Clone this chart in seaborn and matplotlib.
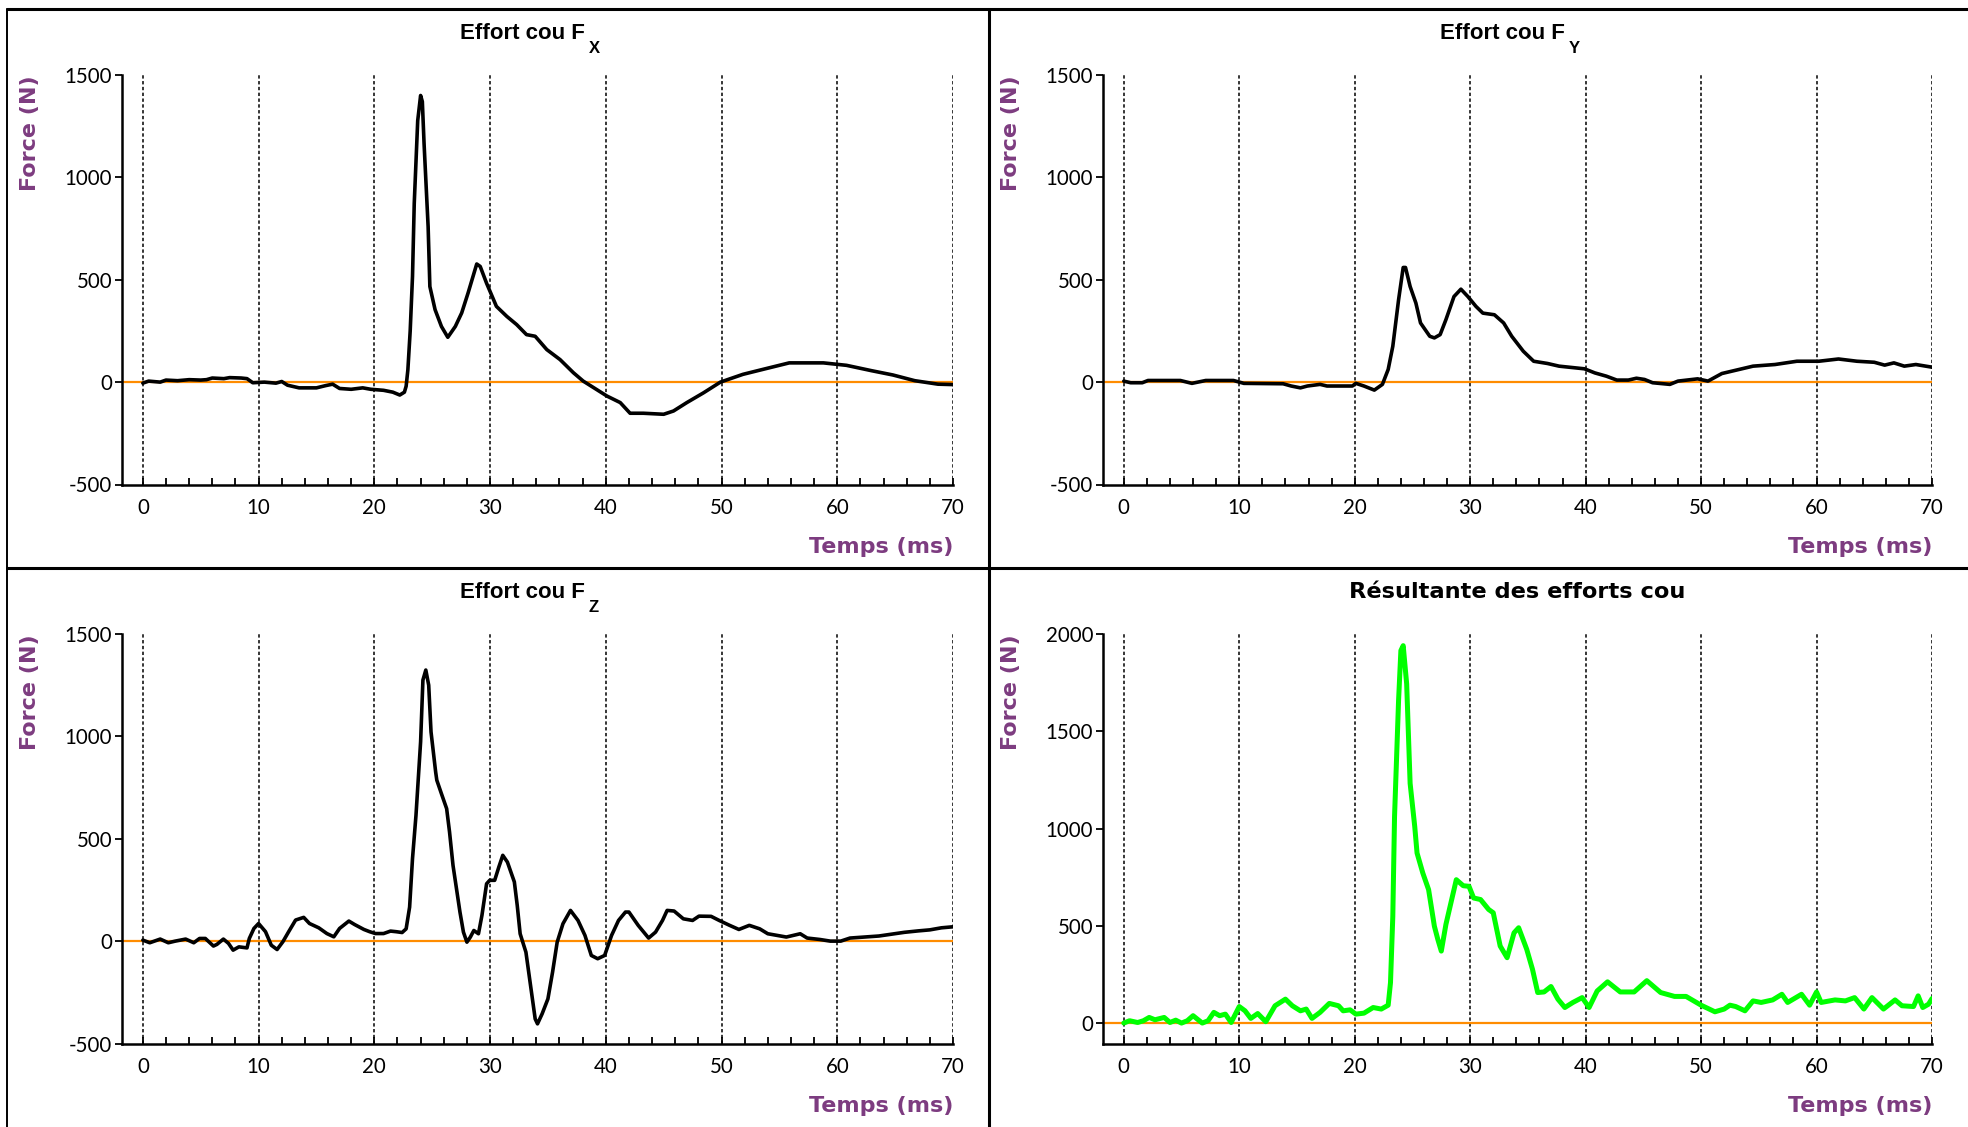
import numpy as np
import pandas as pd
import seaborn as sns
import matplotlib
matplotlib.use("Agg")
import matplotlib.pyplot as plt
from matplotlib.lines import Line2D
from matplotlib.ticker import MultipleLocator, FixedLocator

# ---------------- data (time in ms, force in N) ----------------
fx_t = [0, 0.5, 1.5, 2, 3, 4, 5, 5.5, 6, 7, 7.5, 8.5, 9, 9.5, 10.5, 11.5, 12, 12.5, 13.5, 15,
        15.8, 16.4, 17, 18, 19, 19.7, 20.8, 21.6, 22.2, 22.6, 22.75, 22.9, 23.1, 23.3, 23.45, 23.75,
        24.0, 24.15, 24.3, 24.65, 24.8, 25.25, 25.8, 26.35, 27.0, 27.55, 28.1, 28.85, 29.15, 29.7,
        30.55, 31.45, 32.3, 33.15, 33.9, 34.9, 36.05, 37.2, 38.05, 38.95, 40.1, 41.25, 42.1, 43.25,
        45.0, 45.85, 47.0, 48.45, 49.9, 51.85, 53.7, 55.85, 58.8, 60.8, 62.95, 64.8, 66.7, 68.7, 70]
fx_v = [-5, 5, 0, 10, 7, 12, 10, 12, 20, 17, 22, 20, 17, -3, 0, -5, 3, -15, -28, -28,
        -17, -10, -31, -35, -28, -35, -40, -49, -63, -49, -20, 60, 250, 516, 872, 1277,
        1400, 1370, 1164, 759, 467, 354, 272, 219, 272, 338, 435, 577, 565, 483,
        370, 321, 281, 232, 224, 159, 110, 46, 5, -27, -68, -100, -152, -152,
        -157, -141, -100, -52, 0, 38, 64, 94, 94, 82, 56, 35, 7, -10, -12]

fy_t = [0, 0.6, 1.6, 2.1, 4.9, 5.9, 7.1, 9.5, 10.4, 13.8, 14.5, 15.3, 15.9, 17.0, 17.6, 19.8, 20.1,
        20.8, 21.7, 22.4, 22.9, 23.3, 23.8, 24.2, 24.4, 24.8, 25.3, 25.7, 26.5, 26.9, 27.4, 27.9,
        28.6, 29.2, 29.8, 30.5, 31.1, 32.1, 32.9, 33.6, 34.6, 35.5, 36.7, 37.7, 39.9, 40.8, 41.8,
        42.7, 43.7, 44.4, 45.1, 45.8, 47.3, 48.0, 49.7, 50.6, 51.8, 53.0, 54.5, 56.4, 58.3, 60.2,
        61.9, 63.5, 65.0, 65.9, 66.7, 67.6, 68.6, 70.0]
fy_v = [5, -3, -3, 8, 8, -6, 8, 8, -6, -8, -19, -28, -19, -11, -19, -19, -6,
        -19, -39, -11, 62, 175, 402, 560, 560, 467, 386, 289, 224, 216, 232, 305,
        418, 454, 418, 370, 337, 329, 289, 224, 151, 102, 91, 78, 65, 45, 29,
        10, 10, 19, 13, -3, -11, 5, 16, 5, 42, 58, 78, 86, 102, 102,
        113, 102, 97, 83, 94, 78, 86, 73]

fz_t = [0, 0.6, 1.5, 2.2, 2.8, 3.7, 4.4, 4.9, 5.4, 6.1, 6.4, 6.96, 7.4, 7.8, 8.3, 9.0, 9.2, 9.6,
        10.0, 10.6, 11.1, 11.6, 12.1, 12.6, 13.2, 13.9, 14.4, 15.2, 15.9, 16.5, 17.0, 17.8, 18.3,
        19.1, 19.6, 20.1, 20.8, 21.4, 21.9, 22.4, 22.75, 23.05, 23.3, 23.6, 24.0, 24.2, 24.45, 24.7,
        24.9, 25.3, 25.4, 25.8, 26.25, 26.5, 26.8, 27.1, 27.4, 27.7, 28.0, 28.3, 28.6, 29.0, 29.3,
        29.7, 29.97, 30.4, 30.76, 31.1, 31.5, 32.1, 32.35, 32.6, 33.1, 33.5, 33.9, 34.1, 34.5,
        35.0, 35.4, 35.8, 36.3, 36.95, 37.6, 38.2, 38.75, 39.3, 39.9, 40.5, 41.1, 41.7, 42.0,
        42.8, 43.7, 44.3, 44.9, 45.3, 45.9, 46.7, 47.5, 48.05, 49.1, 49.8, 50.7, 51.5, 52.4,
        53.3, 54.0, 55.6, 56.8, 57.4, 58.5, 59.4, 60.3, 61.1, 63.6, 65.8, 67.0, 68.0, 69.0, 70.0]
fz_v = [5, -8, 10, -8, 0, 10, -8, 13, 13, -24, -16, 10, -11, -44, -28, -33, 13, 62,
        86, 46, -20, -41, -3, 46, 103, 116, 86, 65, 37, 21, 62, 98, 81,
        57, 46, 37, 37, 49, 46, 42, 60, 166, 403, 614, 973, 1275, 1324, 1250,
        1022, 826, 786, 720, 647, 533, 370, 256, 142, 44, -5, 20, 52, 36, 126,
        280, 297, 297, 362, 419, 386, 289, 174, 36, -54, -217, -380, -404, -355,
        -282, -152, -5, 85, 150, 101, 28, -70, -86, -70, 28, 101, 142, 142,
        77, 15, 44, 101, 150, 147, 109, 101, 122, 121, 101, 77, 57, 77,
        60, 36, 20, 36, 15, 8, 0, 0, 15, 25, 43, 50, 55, 65, 70]

res_t = [0, 0.5, 1.2, 1.7, 2.2, 2.7, 3.5, 4.0, 4.5, 5.0, 5.5, 6.0, 6.8, 7.3, 7.8, 8.3, 8.8, 9.3,
         10.0, 10.5, 11.0, 11.6, 12.3, 13.1, 14.0, 14.6, 15.3, 15.8, 16.3, 17.0, 17.8, 18.6, 19.0,
         19.6, 20.1, 20.8, 21.6, 22.3, 22.9, 23.1, 23.3, 23.45, 23.8, 24.0, 24.2, 24.5, 24.8, 25.2,
         25.4, 25.9, 26.4, 26.9, 27.2, 27.5, 27.9, 28.4, 28.8, 29.4, 29.9, 30.3, 30.9, 31.6, 32.0,
         32.6, 33.2, 33.8, 34.2, 34.9, 35.4, 35.85, 36.4, 37.0, 37.6, 38.2, 38.9, 39.7, 40.3, 41.0,
         41.9, 43.0, 44.2, 45.3, 46.5, 47.7, 48.7, 50.0, 51.2, 52.0, 52.5, 53.0, 53.8, 54.5, 55.2,
         56.2, 57.0, 57.5, 58.7, 59.4, 60.0, 60.4, 61.6, 62.5, 63.3, 64.1, 64.8, 65.8, 66.8, 67.4,
         68.4, 68.8, 69.2, 69.7, 70.0]
res_v = [0, 12, 3, 12, 29, 17, 29, 3, 15, 0, 12, 38, 0, 12, 55, 38, 46, 3,
         85, 63, 24, 49, 7, 89, 123, 89, 63, 72, 24, 55, 101, 89, 63,
         68, 46, 51, 80, 72, 92, 208, 549, 1061, 1659, 1915, 1940, 1744, 1232, 1010,
         874, 771, 686, 498, 430, 370, 507, 635, 737, 706, 703, 643, 635, 584, 567,
         396, 336, 464, 490, 379, 276, 157, 160, 188, 123, 80, 106, 131, 80, 165,
         212, 160, 160, 218, 157, 137, 137, 92, 58, 72, 92, 85, 63, 114, 106,
         119, 148, 106, 148, 92, 160, 106, 119, 114, 131, 72, 131, 72, 119, 89,
         85, 140, 80, 97, 126]

title_main = ["Effort cou F", "Effort cou F", "Effort cou F", "Résultante des efforts cou"]
title_sub = ["X", "Y", "Z", ""]
x_major = [0, 10, 20, 30, 40, 50, 60, 70]
y_ticks_f = [-500, 0, 500, 1000, 1500]
y_ticks_r = [0, 500, 1000, 1500, 2000]
xlabel_text = "Temps (ms)"
ylabel_text = "Force (N)"

# ---------------- style ----------------
sns.set_theme(style="white")
plt.rcParams["font.family"] = ["Lato", "DejaVu Sans"]

PURPLE = "#7D3C80"
ORANGE = "#FF8C00"
GREEN = "#00FF00"

W, H = 1968, 1127
fig = plt.figure(figsize=(W / 100, H / 100), dpi=100)
fig.patch.set_facecolor("white")

lefts = [122 / W, 1103 / W]
widths = [831 / W, 829 / W]
bottoms = [1 - 484.5 / H, 1 - 1043.5 / H]
heights = [409.5 / H, 409.5 / H]

series = [(fx_t, fx_v), (fy_t, fy_v), (fz_t, fz_v), (res_t, res_v)]

for i, (t, v) in enumerate(series):
    r, c = divmod(i, 2)
    ax = fig.add_axes([lefts[c], bottoms[r], widths[c], heights[r]])
    ax.set_facecolor("white")
    resultant = (i == 3)
    ylim = (-105, 2000) if resultant else (-500, 1500)
    yt = y_ticks_r if resultant else y_ticks_f

    for xv in x_major:
        ax.axvline(xv, color="black", ls=(0, (2.2, 1.6)), lw=1.1, zorder=1)
    ax.axhline(0, color=ORANGE, lw=1.6, zorder=2)

    df = pd.DataFrame({"t": t, "v": v})
    sns.lineplot(data=df, x="t", y="v", ax=ax, color=GREEN if resultant else "black",
                 linewidth=3.6 if resultant else 2.6, estimator=None, sort=False, zorder=3)

    ax.set_xlim(-1.8, 70)
    ax.set_ylim(*ylim)
    ax.xaxis.set_major_locator(FixedLocator(x_major))
    ax.xaxis.set_minor_locator(MultipleLocator(2))
    ax.yaxis.set_major_locator(FixedLocator(yt))
    ax.set_xticklabels([str(x) for x in x_major])
    ax.set_yticklabels([str(y) for y in yt])

    for s in ["top", "right"]:
        ax.spines[s].set_visible(False)
    for s in ["left", "bottom"]:
        ax.spines[s].set_color("black")
        ax.spines[s].set_linewidth(1.8)

    ax.tick_params(axis="x", which="both", direction="in", length=5, width=1.3,
                   color="black", pad=9.5, labelsize=14.8, labelcolor="black", bottom=True)
    ax.tick_params(axis="y", which="major", direction="out", length=5, width=1.3,
                   color="black", pad=2, labelsize=14.8, labelcolor="black", left=True)
    ax.grid(False)

    ax.set_xlabel(xlabel_text, loc="right", color=PURPLE, fontsize=16,
                  fontweight="bold", family="DejaVu Sans")
    ax.xaxis.set_label_coords(1.0, -0.153)
    ax.xaxis.label.set_va("center")
    ax.set_ylabel(ylabel_text, loc="top", color=PURPLE, fontsize=16,
                  fontweight="bold", family="DejaVu Sans")
    ax.yaxis.set_label_coords(-0.1107, 1.0)
    ax.yaxis.label.set_va("center")

    if resultant:
        ax.text(0.5, 1.087, title_main[i], transform=ax.transAxes, ha="center", va="baseline",
                fontsize=16.2, fontweight="bold", family="DejaVu Sans", color="black")
    else:
        main = ax.text(0.482, 1.087, title_main[i], transform=ax.transAxes, ha="center",
                       va="baseline", fontsize=16, fontweight="bold",
                       family="Liberation Sans", color="black")
        ax.annotate(title_sub[i], xy=(1, 0), xycoords=main, xytext=(2.5, -6),
                    textcoords="offset points", ha="left", va="baseline",
                    fontsize=12, fontweight="bold", family="Liberation Sans",
                    color="black", annotation_clip=False)

# panel borders
def fline(x0, y0, x1, y1, lw):
    fig.add_artist(Line2D([x0 / W, x1 / W], [1 - y0 / H, 1 - y1 / H],
                          transform=fig.transFigure, color="black", lw=lw))

fline(7, 9, W, 9, 2.2)
fline(7, 9, 7, H, 1.4)
fline(989, 9, 989, H, 2.2)
fline(7, 568, W, 568, 2.2)

fig.savefig("out.png", dpi=100, facecolor="white")
